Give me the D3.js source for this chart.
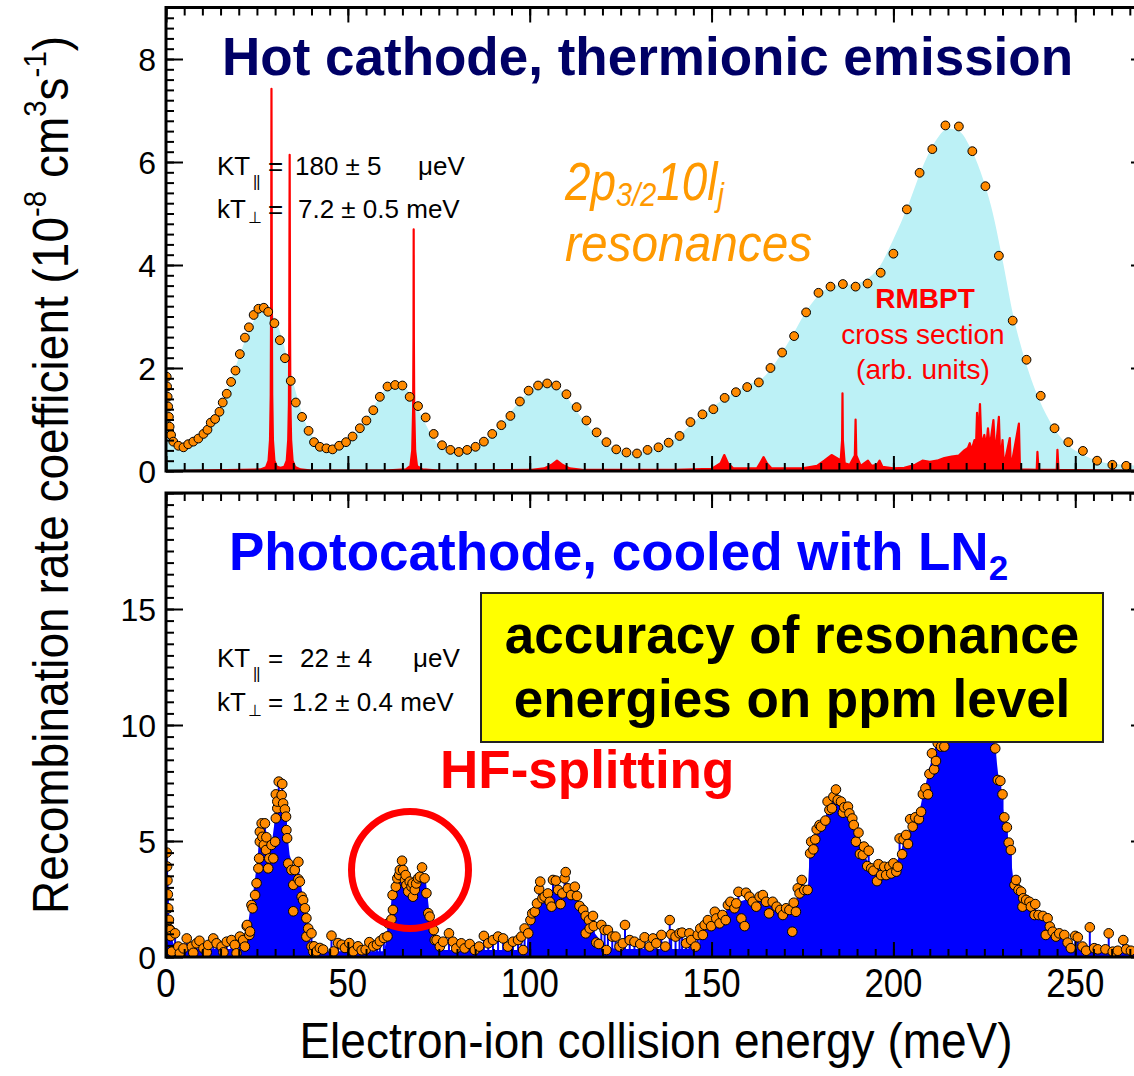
<!DOCTYPE html>
<html>
<head>
<meta charset="utf-8">
<script src="https://cdn.jsdelivr.net/npm/d3@7"></script>
<style>
  body { margin: 0; background: #fff; }
  svg { display: block; font-family: "Liberation Sans", Arial, sans-serif; }
</style>
</head>
<body>
<svg id="chart" width="1134" height="1076"></svg>
<script>
// ---- data: [energy meV, rate 1e-8 cm^3/s] ----
const hotDots = [
  [0.2,1.83],[0.3,1.64],[0.45,1.44],[0.6,1.25],[0.8,1.05],[1.0,0.86],[1.4,0.70],[2.0,0.57],[3.4,0.49],[4.8,0.46],
  [6.1,0.52],[7.5,0.57],[8.9,0.63],[10.3,0.72],[11.4,0.80],[12.3,0.94],[13.5,1.01],[14.7,1.15],[15.6,1.33],[16.7,1.50],
  [17.9,1.73],[19.1,1.95],[20.3,2.27],[21.7,2.59],[22.8,2.79],[24.1,3.03],[25.4,3.15],[26.9,3.17],[28.1,3.09],[29.8,2.87],
  [31.3,2.54],[32.7,2.19],[34.3,1.75],[35.7,1.33],[37.4,1.05],[39.2,0.78],[40.7,0.56],[42.3,0.47],[44.1,0.44],[45.8,0.42],
  [47.6,0.49],[49.5,0.56],[51.3,0.67],[53.3,0.83],[55.1,0.98],[57.0,1.18],[58.8,1.44],[60.9,1.64],[63.0,1.67],[65.0,1.66],
  [67.0,1.44],[69.3,1.26],[71.4,1.04],[73.6,0.72],[75.9,0.50],[78.2,0.41],[80.5,0.37],[82.8,0.41],[85.1,0.47],[87.4,0.57],
  [89.7,0.72],[92.2,0.89],[94.7,1.07],[97.3,1.35],[99.7,1.56],[102.3,1.66],[104.8,1.70],[107.3,1.66],[110.1,1.49],[112.9,1.24],
  [115.6,0.98],[118.4,0.75],[121.1,0.56],[123.8,0.42],[126.6,0.36],[129.5,0.34],[132.4,0.41],[135.4,0.46],[138.2,0.55],[141.2,0.68],
  [144.2,0.95],[147.5,1.10],[150.5,1.20],[153.6,1.42],[156.7,1.53],[159.8,1.63],[163.0,1.72],[166.2,2.00],[169.4,2.30],[172.7,2.62],
  [176.0,3.08],[179.4,3.46],[182.7,3.58],[186.1,3.63],[189.6,3.58],[192.9,3.64],[196.5,3.85],[200.0,4.22],[203.7,5.08],[207.2,5.79],
  [210.7,6.25],[214.3,6.71],[218.0,6.69],[221.7,6.21],[225.3,5.53],[229.0,4.18],[232.8,2.92],[236.6,2.16],[240.5,1.46],[244.3,0.83],
  [248.1,0.56],[252.1,0.39],[256.0,0.20],[260.2,0.12],[264.0,0.10]
];
// fitted rate (light cyan area)
const hotFit = [
  [0,1.85],[0.5,1.3],[1,0.9],[2,0.6],[3,0.5],[5,0.47],[8,0.55],[11,0.75],[14,1.1],[17,1.6],[20,2.2],[23,2.75],[26,3.1],
  [28,3.12],[30,2.95],[32,2.55],[34,2.0],[36,1.45],[38,1.0],[40,0.7],[43,0.48],[46,0.44],[49,0.52],[52,0.72],[55,1.0],
  [58,1.35],[61,1.62],[64,1.68],[66,1.6],[68,1.38],[70,1.1],[73,0.7],[76,0.45],[80,0.36],[84,0.42],[88,0.6],[92,0.9],
  [96,1.25],[100,1.55],[104,1.68],[107,1.65],[110,1.45],[113,1.15],[116,0.88],[120,0.58],[124,0.4],[128,0.33],[132,0.38],
  [136,0.48],[140,0.63],[144,0.88],[148,1.12],[152,1.33],[156,1.52],[160,1.68],[164,1.8],[168,2.15],[172,2.6],[176,3.1],
  [180,3.45],[184,3.6],[188,3.62],[192,3.7],[196,3.95],[200,4.5],[204,5.15],[208,5.9],[212,6.45],[215,6.65],[218,6.6],
  [221,6.3],[224,5.8],[227,5.1],[230,4.1],[233,3.0],[236,2.2],[240,1.4],[244,0.85],[248,0.5],[252,0.32],[256,0.2],
  [260,0.14],[270,0.1]
];
// RMBPT cross section, arbitrary units (red)
const rmbpt = [
  [0,0],[26,0.03],[27.5,0.07],[28.2,0.2],[28.6,0.6],[28.8,1.48],[28.9,3.2],[29.0,7.42],[29.1,3.2],[29.2,1.48],[29.4,0.6],
  [29.8,0.2],[30.5,0.08],[31.5,0.06],[32.5,0.08],[33.2,0.2],[33.6,0.6],[33.8,1.3],[33.9,2.9],[34.0,6.14],[34.1,2.9],
  [34.2,1.3],[34.4,0.6],[34.8,0.2],[35.5,0.08],[37,0.03],[40,0.01],[60,0.01],[66,0.03],[67.2,0.1],[67.7,0.4],[67.95,1.2],
  [68.05,2.6],[68.1,4.69],[68.15,2.6],[68.25,1.2],[68.5,0.4],[69,0.1],[70.5,0.03],[75,0.01],[100,0.02],[104,0.05],
  [106,0.12],[107.5,0.2],[109,0.12],[111,0.05],[115,0.02],[140,0.02],[150,0.04],[152.5,0.15],[153.5,0.31],[154.5,0.15],
  [156,0.05],[162.5,0.05],[163.5,0.17],[164.3,0.27],[165.2,0.15],[166.5,0.05],[175,0.05],[179,0.1],[181,0.2],[183,0.31],
  [184.5,0.25],[185.5,0.2],[185.9,0.6],[186.0,1.51],[186.1,0.6],[186.6,0.15],[188,0.12],[189.4,0.3],[189.6,1.0],[189.8,0.3],
  [191,0.1],[193,0.2],[194,0.1],[195.5,0.12],[196.2,0.2],[197,0.08],[200,0.05],[203,0.06],[206,0.12],[208,0.2],[210,0.18],
  [212,0.2],[214,0.25],[216,0.28],[218,0.3],[219.5,0.4],[220.5,0.45],[221.0,0.54],[221.5,0.4],[222.3,0.6],[222.7,0.45],
  [223.0,1.13],[223.3,0.5],[223.8,1.30],[224.2,0.5],[225.0,0.7],[225.5,0.45],[226.0,0.83],[226.5,0.45],[227.5,0.99],
  [228,0.3],[229.0,1.05],[229.4,0.15],[230.0,0.6],[230.4,0.1],[232.0,0.64],[232.3,0.05],[234.5,0.92],[234.8,0.03],
  [239.4,0.02],[239.6,0.37],[239.9,0.02],[244.9,0.02],[245.1,0.41],[245.4,0.02],[270,0]
];

const photoDots = [
  [0.2,4.5],[0.3,3.9],[0.4,3.3],[0.5,2.7],[0.6,2.1],[0.8,1.6],[1.0,1.2],[1.1,1.16],[1.3,0.9],[1.6,0.23],
  [2.5,1.02],[3.4,0.45],[3.8,0.16],[4.8,0.37],[5.7,0.80],[7.1,0.45],[7.5,0.18],[8.4,0.59],[9.2,0.70],[10.3,0.37],
  [11.2,0.2],[11.6,0.52],[13.0,0.80],[13.9,0.59],[15.3,0.45],[15.8,0.2],[16.7,0.66],[18.0,0.73],[18.9,0.52],[19.4,0.16],
  [20.3,0.88],[21.2,0.73],[21.7,0.45],[22.2,1.33],[22.9,0.95],
  [22.3,1.38],[23.1,1.10],[23.5,2.24],[23.8,2.10],[24.5,2.67],[24.9,3.18],[25.4,3.82],[25.6,4.25],[25.8,4.97],[25.8,5.40],
  [26.3,5.76],[26.5,5.18],[26.9,4.83],[27.2,5.76],[27.5,4.61],[27.6,5.16],[28.1,3.82],[28.4,4.25],[29.0,4.83],[29.5,4.25],
  [30.0,4.97],[30.2,5.98],[30.2,7.01],[30.6,6.41],[30.6,6.70],[31.0,7.56],[31.8,6.98],[31.96,7.46],[32.2,6.62],[32.7,6.36],
  [33.0,6.05],[33.1,5.47],[33.3,5.12],[33.6,4.03],[34.5,3.75],[35.0,3.11],[35.0,1.97],[35.4,3.75],[36.4,4.10],[36.4,3.35],
  [36.8,3.25],[37.3,2.60],[37.7,2.45],[38.2,2.10],[38.6,1.67],[38.6,0.88],[39.1,1.23],[40.0,1.02],[40.0,0.45],[40.5,0.23],
  [40.7,0.46],[41.4,0.24],[42.3,0.39],[43.2,0.32],[45.5,0.92],[46.1,0.24],[47.3,0.60],[48.3,0.53],[49.2,0.39],[50.4,0.60],
  [51.5,0.24],[52.8,0.46],[53.8,0.29],[54.9,0.32],[55.9,0.64],[57.0,0.46],[58.0,0.53],[58.8,0.68],[59.9,0.82],[60.9,0.89],
  [61.1,1.45],[62.0,1.62],[62.4,2.03],[62.3,2.67],[63.2,3.03],[63.6,3.39],[64.1,3.53],[64.3,3.75],[64.9,4.15],[65.2,3.75],
  [65.7,3.32],[65.9,3.53],[66.1,3.10],[66.6,2.82],[67.0,3.25],[67.5,3.03],[67.8,3.17],[67.9,2.60],[68.4,2.89],[68.8,3.17],
  [69.3,3.39],[69.8,3.46],[70.4,3.86],[71.1,3.39],[71.6,2.75],[72.1,1.89],[72.5,1.74],[73.6,1.16],[73.9,0.73],
  [74.4,0.73],[75.3,0.45],[76.2,0.66],[77.8,1.02],[78.9,0.66],[79.8,0.37],[81.2,0.59],[82.1,0.37],[83.5,0.56],[84.9,0.30],
  [86.1,0.45],[87.4,0.91],[88.6,0.59],[89.9,0.73],[91.3,0.88],[92.7,0.80],[94.0,0.45],[95.4,0.66],[96.8,0.73],[97.7,0.88],
  [98.2,0.30],[98.6,1.23],[99.6,1.02],
  [100.2,1.59],[100.7,1.88],[101.4,1.95],[102.0,2.31],[102.6,2.92],[102.9,3.25],[103.5,2.53],[104.1,2.60],[105.0,2.74],
  [105.5,2.38],[106.0,2.17],[106.4,3.32],[107.2,3.29],[107.8,2.89],[108.5,2.28],[109.0,2.74],[109.6,3.39],[109.9,3.66],
  [110.5,2.96],[111.4,2.67],[112.4,3.03],[113.0,2.63],[113.7,2.20],[114.7,2.03],[115.4,1.77],[115.4,1.02],[116.3,1.59],
  [116.5,1.23],[117.4,1.77],[117.6,1.33],[118.3,0.62],[119.0,0.56],[119.7,1.38],[120.6,1.16],[121.1,0.30],[121.5,1.16],
  [122.7,0.88],[123.6,0.88],[124.7,0.45],[125.6,0.59],[126.2,1.38],[127.5,0.73],[128.8,0.66],[130.4,0.56],[131.6,0.85],
  [133.0,0.45],[133.9,0.80],[134.8,0.59],[136.2,0.95],[137.3,0.45],[138.5,1.59],[138.9,0.98],[140.1,0.88],[141.2,1.02],
  [141.9,1.05],[143.0,0.59],[143.9,1.02],[144.4,0.73],[145.6,0.45],[146.2,0.95],[146.9,1.23],[147.6,0.95],[148.1,1.38],
  [149.0,1.59],[149.9,1.33],[150.9,1.95],[151.3,1.66],[152.2,1.45],[153.0,1.81],[153.9,1.59],[154.5,2.24],[155.2,2.38],
  [156.3,2.10],[156.8,2.31],[157.4,2.81],[158.2,1.66],[159.1,1.33],[159.5,2.77],[160.4,2.60],[161.3,2.38],[162.3,2.17],
  [163.2,2.60],[164.1,2.67],[165.0,2.38],[165.8,1.88],[166.8,2.38],[167.9,2.17],[168.9,2.03],[169.6,1.81],[170.5,2.10],
  [171.4,2.03],[172.2,1.09],[172.6,2.34],[173.2,1.95],[173.7,2.96],[174.2,2.74],[174.8,3.32],[175.5,2.89],[176.4,2.89],
  [177.1,4.47],[177.4,4.97],[178.0,4.64],[178.5,5.07],[178.9,5.50],[179.7,5.69],
  [180.1,5.62],[181.3,5.88],[181.9,6.70],[182.4,6.34],[183.1,6.41],[183.5,6.91],[184.2,7.22],[184.7,6.77],[185.6,6.70],
  [186.1,6.22],[186.5,6.45],[187.5,6.48],[187.9,6.19],[188.7,5.97],[189.1,5.69],[189.7,4.97],[190.4,5.36],[190.8,4.44],
  [191.6,4.40],[191.9,4.76],[192.8,3.92],[193.2,4.58],[193.9,3.82],[194.5,3.72],[195.5,3.27],[195.9,4.00],[196.6,3.53],
  [197.5,3.89],[198.0,3.53],[198.9,3.89],[199.4,3.60],[200.0,4.04],[200.8,3.68],[201.2,3.89],[201.7,5.11],[202.4,4.43],
  [202.8,5.07],[203.5,5.26],[204.0,4.87],[204.6,5.94],[205.3,5.62],[206.0,6.02],[207.0,5.94],[207.6,6.26],[208.1,7.02],
  [208.8,7.27],[209.5,7.01],[209.9,7.89],[210.6,8.78],[211.2,8.09],[211.7,8.45],[212.2,9.21],[213.1,9.07],[214.0,9.07],
  [215.5,10.6],[217.5,11.6],[219.5,12.3],[221.5,12.6],[223.5,12.3],[225.5,11.4],[227.0,10.1],
  [228.0,8.99],[228.7,7.63],[229.4,7.59],[230.0,7.01],[230.5,6.02],[231.2,5.59],[231.7,4.93],[232.3,4.61],[233.3,3.10],
  [233.7,3.32],[234.4,2.89],[235.1,2.82],[235.5,2.17],[235.7,2.53],[236.5,2.46],[237.4,2.38],[237.8,2.17],[238.8,1.81],
  [239.0,2.28],[239.9,1.81],[241.1,1.77],[241.9,0.95],[242.4,1.67],[243.0,1.31],[243.8,1.09],[244.7,0.88],[245.6,1.02],
  [247.0,0.95],[247.9,0.62],[248.8,0.38],[250.0,0.91],[250.7,0.85],[252.0,0.45],[253.0,0.27],[254.0,1.28],[255.2,0.38],
  [256.2,0.33],[258.3,0.33],[259.2,1.02],[260.3,0.23],[261.7,0.27],[263.2,0.73],[264.0,0.33],[265.3,0.27]
];
// blue filled spectrum envelope
const photoFill = [
  [0,4.6],[0.5,2.5],[1,1.2],[2,0.6],[3,0.35],[21,0.35],[22,0.8],[23,1.9],[24,2.8],[25,4.0],[26,5.6],[27,5.7],[28,5.2],
  [29,4.8],[30,6.0],[31,7.2],[32,7.1],[33,5.8],[34,4.4],[35,3.9],[36,3.9],[37,3.2],[38,2.3],[39,1.2],[40,0.4],[41,0.25],
  [60,0.25],[61,1.2],[62,2.4],[63,3.1],[64,3.4],[66,3.3],[68,3.2],[70,3.4],[71.5,3.2],[72.5,1.8],[73.5,0.8],[74.5,0.3],
  [99,0.3],[100,1.2],[101,1.9],[102,2.5],[104,2.8],[106,2.9],[108,2.9],[110,3.0],[112,2.8],[114,2.2],[116,1.6],[118,1.0],
  [120,0.6],[122,0.4],[124,0.35],[146,0.35],[148,1.1],[150,1.5],[152,1.7],[154,2.0],[156,2.2],[158,2.4],[160,2.5],[163,2.5],
  [166,2.3],[169,2.0],[172,2.0],[174,2.5],[175.5,2.8],[176.5,3.0],[177,4.5],[178,4.9],[180,5.6],[182,6.3],[184,6.8],
  [186,6.5],[188,6.0],[190,5.0],[192,4.4],[194,3.8],[196,3.7],[198,3.7],[200,3.8],[201.5,4.3],[203,5.0],[205,5.7],
  [207,6.2],[208.5,7.2],[210,8.2],[212,9.3],[214,10.5],[217,11.8],[220,12.5],[223,12.3],[226,11.0],[228,9.0],[229,7.6],
  [230.5,6.0],[232,4.7],[233,3.3],[235,2.7],[237,2.3],[239,2.0],[241,1.7],[243,1.2],[245,0.9],[247,0.7],[249,0.4],
  [252,0.3],[255,0.25],[270,0.2]
];

const xTickLabels = [0, 50, 100, 150, 200, 250];
const hotTickLabels = [0, 2, 4, 6, 8];
const photoTickLabels = [0, 5, 10, 15];

// ---- layout ----
const svg = d3.select('#chart');
const ORANGE = '#ff8a00';
const x = d3.scaleLinear().domain([0, 270]).range([166, 1148]);
const yTop = d3.scaleLinear().domain([0, 9]).range([471, 7.5]);
const yBot = d3.scaleLinear().domain([0, 20]).range([957, 493]);

const defs = svg.append('defs');
defs.append('clipPath').attr('id', 'clipTop').append('rect')
  .attr('x', 166).attr('y', 7.5).attr('width', 982).attr('height', 463.5);
defs.append('clipPath').attr('id', 'clipBot').append('rect')
  .attr('x', 166).attr('y', 493).attr('width', 982).attr('height', 464);

// top panel
const gTop = svg.append('g').attr('clip-path', 'url(#clipTop)');
gTop.append('path').datum(hotFit)
  .attr('fill', '#bcf1f6')
  .attr('d', d3.area().x(d => x(d[0])).y0(yTop(0)).y1(d => yTop(d[1])).curve(d3.curveMonotoneX));
gTop.append('path').datum(rmbpt)
  .attr('fill', '#ff0000').attr('stroke', '#ff0000').attr('stroke-width', 2.2)
  .attr('stroke-linejoin', 'round')
  .attr('d', d3.area().x(d => x(d[0])).y0(yTop(0)).y1(d => yTop(d[1])));
gTop.selectAll('circle').data(hotDots).enter().append('circle')
  .attr('cx', d => x(d[0])).attr('cy', d => yTop(d[1])).attr('r', 4.4)
  .attr('fill', ORANGE).attr('stroke', '#000').attr('stroke-width', 1);

// bottom panel
const gBot = svg.append('g').attr('clip-path', 'url(#clipBot)');
gBot.append('path').datum(photoFill)
  .attr('fill', '#0000ff')
  .attr('d', d3.area().x(d => x(d[0])).y0(yBot(0)).y1(d => yBot(d[1])));
gBot.selectAll('line').data(photoDots).enter().append('line')
  .attr('x1', d => x(d[0])).attr('x2', d => x(d[0]))
  .attr('y1', yBot(0)).attr('y2', d => yBot(d[1]))
  .attr('stroke', '#0000ff').attr('stroke-width', 2);
gBot.selectAll('circle').data(photoDots).enter().append('circle')
  .attr('cx', d => x(d[0])).attr('cy', d => yBot(d[1])).attr('r', 4.8)
  .attr('fill', ORANGE).attr('stroke', '#000').attr('stroke-width', 1);

// ---- axes: inward ticks on all four sides ----
function addAxis(axis, tr) {
  const a = svg.append('g').attr('transform', tr).call(axis);
  a.select('.domain').remove();
  a.selectAll('text').remove();
  a.selectAll('line').attr('stroke', '#000').attr('stroke-width', 2);
}
function panelAxes(y, minorStep, majorStep) {
  const [y0, y1] = y.range();
  const [v0, v1] = y.domain();
  const xMinor = d3.range(0, 271, 5);
  const xMajor = d3.range(0, 271, 50);
  const yMinor = d3.range(v0, v1 + 1e-9, minorStep);
  const yMajor = d3.range(v0, v1 + 1e-9, majorStep);
  addAxis(d3.axisBottom(x).tickValues(xMinor).tickSize(-8), `translate(0,${y0})`);
  addAxis(d3.axisBottom(x).tickValues(xMajor).tickSize(-15), `translate(0,${y0})`);
  addAxis(d3.axisTop(x).tickValues(xMinor).tickSize(-8), `translate(0,${y1})`);
  addAxis(d3.axisTop(x).tickValues(xMajor).tickSize(-15), `translate(0,${y1})`);
  addAxis(d3.axisLeft(y).tickValues(yMinor).tickSize(-8), `translate(${x(0)},0)`);
  addAxis(d3.axisLeft(y).tickValues(yMajor).tickSize(-17), `translate(${x(0)},0)`);
  addAxis(d3.axisRight(y).tickValues(yMinor).tickSize(-8), `translate(${x(270)},0)`);
  addAxis(d3.axisRight(y).tickValues(yMajor).tickSize(-17), `translate(${x(270)},0)`);
  svg.append('rect').attr('x', x(0)).attr('y', y1)
    .attr('width', x(270) - x(0)).attr('height', y0 - y1)
    .attr('fill', 'none').attr('stroke', '#000').attr('stroke-width', 3);
}
panelAxes(yTop, 0.2, 2);
panelAxes(yBot, 0.5, 5);

// tick labels
svg.selectAll('.ylt').data(hotTickLabels).enter().append('text')
  .attr('x', 156).attr('y', d => yTop(d)).attr('dy', '0.36em')
  .attr('text-anchor', 'end').attr('font-size', 32).text(d => d);
svg.selectAll('.ylb').data(photoTickLabels).enter().append('text')
  .attr('x', 156).attr('y', d => yBot(d)).attr('dy', '0.36em')
  .attr('text-anchor', 'end').attr('font-size', 32).text(d => d);
svg.selectAll('.xl').data(xTickLabels).enter().append('text')
  .attr('transform', d => `translate(${x(d)},997) scale(0.87,1)`)
  .attr('text-anchor', 'middle').attr('font-size', 40).text(d => d);

// axis titles
svg.append('text')
  .attr('transform', 'translate(656,1058) scale(0.92,1)')
  .attr('text-anchor', 'middle').attr('font-size', 50)
  .text('Electron-ion collision energy (meV)');
const yt = svg.append('text')
  .attr('transform', 'translate(68,475) rotate(-90) scale(0.92,1)')
  .attr('text-anchor', 'middle').attr('font-size', 50);
yt.append('tspan').text('Recombination rate coefficient (10');
yt.append('tspan').attr('font-size', 32).attr('dy', -22).text('-8');
yt.append('tspan').attr('dy', 22).text(' cm');
yt.append('tspan').attr('font-size', 32).attr('dy', -22).text('3');
yt.append('tspan').attr('dy', 22).text('s');
yt.append('tspan').attr('font-size', 32).attr('dy', -22).text('-1');
yt.append('tspan').attr('dy', 22).text(')');

// panel titles
svg.append('text').attr('x', 222).attr('y', 75)
  .attr('font-size', 53).attr('font-weight', 'bold').attr('fill', '#000066')
  .text('Hot cathode, thermionic emission');
const t2 = svg.append('text').attr('x', 229).attr('y', 570)
  .attr('font-size', 53).attr('font-weight', 'bold').attr('fill', '#0000ff');
t2.append('tspan').text('Photocathode, cooled with LN');
t2.append('tspan').attr('font-size', 35).attr('dy', 10).text('2');

// beam temperatures
function tempBlock(y1, y2, a, b, aX, bX, uX) {
  const g = svg.append('g').attr('font-size', 26);
  g.append('text').attr('x', 217).attr('y', y1).text('KT');
  g.append('text').attr('x', 253).attr('y', y1 + 12).attr('font-size', 16).attr('letter-spacing', -1).text('||');
  g.append('text').attr('x', 268).attr('y', y1).text('=');
  g.append('text').attr('x', aX).attr('y', y1).text(a);
  g.append('text').attr('x', uX).attr('y', y1).text('μeV');
  g.append('text').attr('x', 217).attr('y', y2).text('kT');
  g.append('text').attr('x', 248).attr('y', y2 + 5).attr('font-size', 16).text('⊥');
  g.append('text').attr('x', 268).attr('y', y2).text('=');
  g.append('text').attr('x', bX).attr('y', y2).text(b);
}
tempBlock(175, 218, '180 ± 5', '7.2 ± 0.5 meV', 295, 298, 418);
tempBlock(667, 711, '22 ± 4', '1.2 ± 0.4 meV', 300, 292, 413);

// resonance label
const r1 = svg.append('text')
  .attr('transform', 'translate(565,200) scale(0.85,1)')
  .attr('font-size', 54).attr('font-style', 'italic').attr('fill', '#ff9900');
r1.append('tspan').text('2p');
r1.append('tspan').attr('font-size', 34).attr('dy', 6).text('3/2');
r1.append('tspan').attr('dy', -6).text('10l');
r1.append('tspan').attr('font-size', 34).attr('dy', 6).text('j');
svg.append('text')
  .attr('transform', 'translate(565,261) scale(0.92,1)')
  .attr('font-size', 52).attr('font-style', 'italic').attr('fill', '#ff9900')
  .text('resonances');

// RMBPT label
const rg = svg.append('g').attr('fill', '#ff0000').attr('text-anchor', 'middle').attr('font-size', 28);
rg.append('text').attr('x', 925).attr('y', 308).attr('font-weight', 'bold').text('RMBPT');
rg.append('text').attr('x', 923).attr('y', 344).text('cross section');
rg.append('text').attr('x', 923).attr('y', 379).text('(arb. units)');

// yellow box
svg.append('rect').attr('x', 481).attr('y', 593).attr('width', 622).attr('height', 149)
  .attr('fill', '#ffff00').attr('stroke', '#222').attr('stroke-width', 2);
const bg = svg.append('g').attr('text-anchor', 'middle').attr('font-size', 53).attr('font-weight', 'bold');
bg.append('text').attr('x', 792).attr('y', 653).text('accuracy of resonance');
bg.append('text').attr('x', 792).attr('y', 717).text('energies on ppm level');

// HF-splitting
svg.append('text').attr('x', 440).attr('y', 788)
  .attr('font-size', 53).attr('font-weight', 'bold').attr('fill', '#ff0000')
  .text('HF-splitting');
svg.append('circle').attr('cx', 410).attr('cy', 870).attr('r', 58.5)
  .attr('fill', 'none').attr('stroke', '#ff0000').attr('stroke-width', 7);
</script>
</body>
</html>
